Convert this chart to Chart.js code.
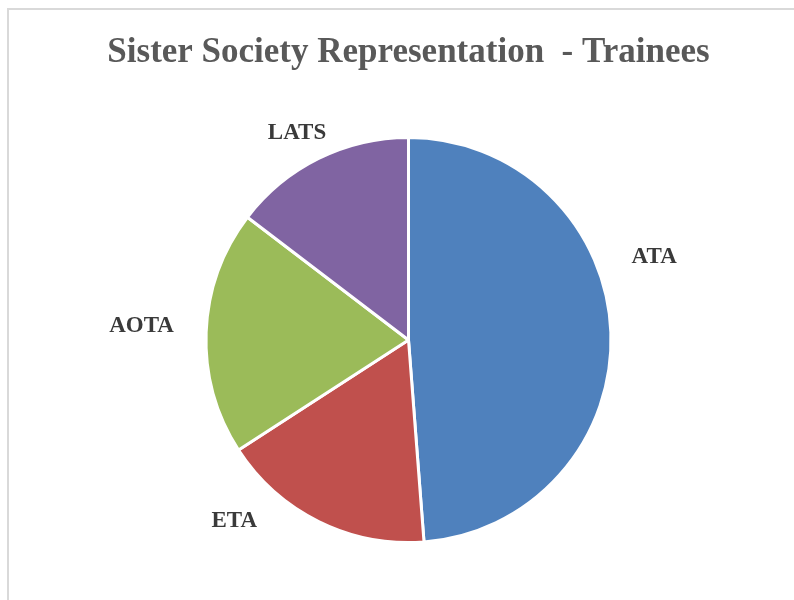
<!DOCTYPE html>
<html>
<head>
<meta charset="utf-8">
<script src="https://cdn.jsdelivr.net/npm/chart.js@4.4.1/dist/chart.umd.min.js"></script>
<style>
    html, body { margin: 0; padding: 0; background: #fff; }
    #wrap { position: relative; width: 794px; height: 600px; overflow: hidden; }
    #frame { position: absolute; left: 7px; top: 8px; width: 900px; height: 700px;
             border: 2px solid #d9d9d9; box-sizing: border-box; }
    canvas { position: absolute; left: 0; top: 0; }
</style>
</head>
<body>
<div id="wrap">
    <div id="frame"></div>
    <canvas id="pie-chart" width="794" height="600"></canvas>
</div>
<script>
const categories = ["ATA", "ETA", "AOTA", "LATS"];
const trainees = [20, 7, 8, 6];
const sliceColors = ["#4f81bd", "#c0504d", "#9bbb59", "#8064a2"];

// draws category names outside the slices, roughly where Excel put them
const outsideLabels = {
    id: "outsideLabels",
    afterDatasetsDraw(chart, args, opts) {
        const ctx = chart.ctx;
        const arcs = chart.getDatasetMeta(0).data;
        ctx.save();
        ctx.font = opts.font;
        ctx.fillStyle = opts.color;
        ctx.textAlign = "center";
        ctx.textBaseline = "middle";
        arcs.forEach((arc, i) => {
            const p = opts.placement[i];
            const mid = (arc.startAngle + arc.endAngle) / 2 + p.turn * Math.PI / 180;
            const r = arc.outerRadius * p.dist;
            ctx.fillText(chart.data.labels[i], arc.x + Math.cos(mid) * r, arc.y + Math.sin(mid) * r);
        });
        ctx.restore();
    }
};

const ctx = document.getElementById("pie-chart");

new Chart(ctx, {
    type: "pie",
    data: {
        labels: categories,
        datasets: [{
            data: trainees,
            backgroundColor: sliceColors,
            borderColor: "#ffffff",
            borderWidth: 3
        }]
    },
    options: {
        responsive: false,
        animation: false,
        layout: {
            padding: { top: 0, left: 23, right: 0, bottom: 56 }
        },
        plugins: {
            legend: { display: false },
            tooltip: { enabled: false },
            title: {
                display: true,
                text: "Sister Society Representation  - Trainees",
                color: "#595959",
                font: { family: "Liberation Serif", size: 35, weight: "bold", lineHeight: 1.2 },
                padding: { top: 32, bottom: 62 }
            },
            outsideLabels: {
                font: "bold 23px 'Liberation Serif'",
                color: "#3a3a3a",
                placement: [
                    { turn: -16.4, dist: 1.28 },
                    { turn: 17.6, dist: 1.24 },
                    { turn: 0.7, dist: 1.32 },
                    { turn: -2, dist: 1.16 }
                ]
            }
        }
    },
    plugins: [outsideLabels]
});
</script>
</body>
</html>
